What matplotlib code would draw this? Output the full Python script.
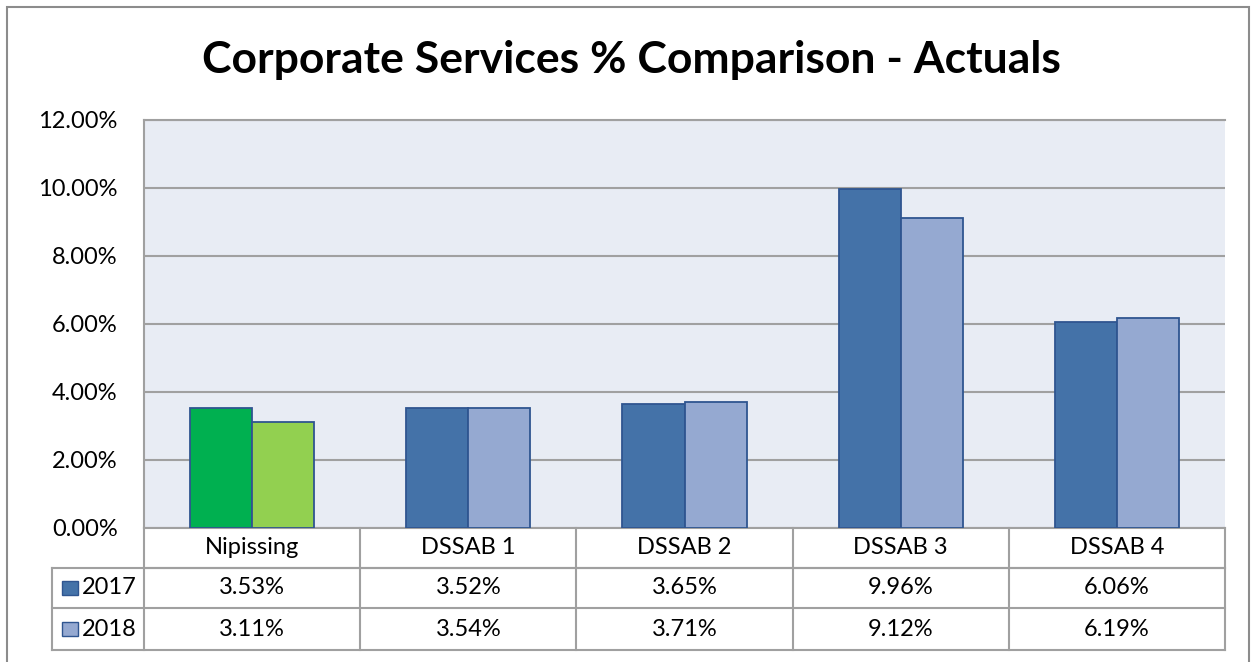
import numpy as np
import matplotlib
matplotlib.use("Agg")
import matplotlib.pyplot as plt
from matplotlib.patches import Rectangle
import matplotlib.transforms as mtransforms

plt.rcParams['font.family'] = ['Lato', 'DejaVu Sans']

categories = ['Nipissing', 'DSSAB 1', 'DSSAB 2', 'DSSAB 3', 'DSSAB 4']
series = ['2017', '2018']
vals_2017 = [3.53, 3.52, 3.65, 9.96, 6.06]
vals_2018 = [3.11, 3.54, 3.71, 9.12, 6.19]
labels_2017 = ['3.53%', '3.52%', '3.65%', '9.96%', '6.06%']
labels_2018 = ['3.11%', '3.54%', '3.71%', '9.12%', '6.19%']

c17 = '#4472A8'
c18 = '#95A9D1'
c17_first = '#00B050'
c18_first = '#92D050'
edge = '#2F5590'
grid_c = '#A0A0A0'
fs = 17

W, H = 1252, 662
fig = plt.figure(figsize=(W / 100, H / 100), dpi=100)

# outer chart border
fig.patches.append(Rectangle((7 / W, -0.05), (1249 - 7) / W, 1.05 - 7 / H,
                             transform=fig.transFigure, fill=False,
                             edgecolor='#8C8C8C', linewidth=1.5))

ax = fig.add_axes([144 / W, (H - 528) / H, (1225 - 144) / W, (528 - 120) / H])
ax.set_facecolor('#E8ECF4')

x = np.arange(len(categories))
bw = 0.287
cols17 = [c17_first] + [c17] * (len(categories) - 1)
cols18 = [c18_first] + [c18] * (len(categories) - 1)
ax.bar(x - bw / 2, vals_2017, bw, color=cols17, edgecolor=edge, linewidth=1.3, zorder=3)
ax.bar(x + bw / 2, vals_2018, bw, color=cols18, edgecolor=edge, linewidth=1.3, zorder=3)

ax.set_xlim(-0.5, len(categories) - 0.5)
ax.set_ylim(0, 12)
yt = np.arange(0, 13, 2)
ax.set_yticks(yt)
ax.set_yticklabels(['%.2f%%' % v for v in yt], fontsize=fs)
ax.tick_params(axis='y', length=0, pad=19)
ax.set_xticks([])
ax.yaxis.grid(True, color=grid_c, linewidth=1.5, zorder=1)
for s in ax.spines.values():
    s.set_color(grid_c)
    s.set_linewidth(1.5)
ax.spines['right'].set_visible(False)

fig.text(631 / W, 1 - 60 / H, 'Corporate Services % Comparison - Actuals',
         ha='center', va='center', fontsize=32, fontweight='bold')

# data table below the plot
trans = mtransforms.blended_transform_factory(ax.transData, ax.transAxes)
ph = 408.0
r0, r1, r2, r3 = 0, -40 / ph, -80 / ph, -122 / ph
xl = -0.5 - 92 / 216.2
xr = len(categories) - 0.5
lw = 1.5
kw = dict(transform=trans, color=grid_c, linewidth=lw, clip_on=False)
ax.plot([-0.5, xr], [r1, r1], **kw)
ax.plot([xl, xr], [r1, r1], **kw)
ax.plot([xl, xr], [r2, r2], **kw)
ax.plot([xl, xr], [r3, r3], **kw)
ax.plot([xl, xl], [r1, r3], **kw)
for b in np.arange(-0.5, xr + 0.01, 1.0):
    ax.plot([b, b], [r0, r3], **kw)

for i, c in enumerate(categories):
    ax.text(i, (r0 + r1) / 2, c, transform=trans, ha='center', va='center', fontsize=fs)
    ax.text(i, (r1 + r2) / 2, labels_2017[i], transform=trans, ha='center', va='center', fontsize=fs)
    ax.text(i, (r2 + r3) / 2, labels_2018[i], transform=trans, ha='center', va='center', fontsize=fs)

for (ya, yb), name, col in [((r1, r2), series[0], c17), ((r2, r3), series[1], c18)]:
    ym = (ya + yb) / 2
    ax.add_patch(Rectangle((xl + 0.045, ym - 7 / ph), 0.075, 14 / ph, transform=trans,
                           facecolor=col, edgecolor=edge, linewidth=1, clip_on=False))
    ax.text(xl + 0.14, ym, name, transform=trans, ha='left', va='center', fontsize=fs)

fig.savefig('out.png', dpi=100)
